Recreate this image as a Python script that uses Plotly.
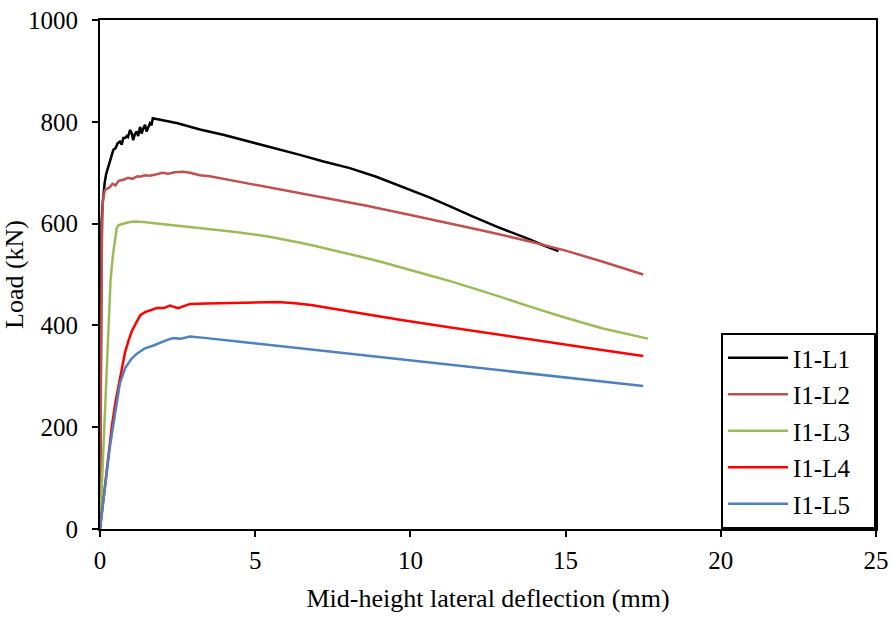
import plotly.graph_objects as go

# I1-L1
x1 = [0, 0.02, 0.04, 0.05, 0.08, 0.11, 0.15, 0.2, 0.27, 0.35, 0.43, 0.5, 0.57, 0.64, 0.7, 0.75, 0.81, 0.86, 0.9, 0.97,
      1.02, 1.07, 1.12, 1.18, 1.23, 1.29, 1.34, 1.4, 1.45, 1.5, 1.55, 1.61, 1.66, 1.7, 2.5, 3.22, 4.0, 4.83, 5.6, 6.44,
      7.2, 8.05, 8.9, 9.66, 10.2, 10.63, 11.28, 12.0, 12.78, 13.3, 13.8, 14.3, 14.77]
y1 = [0, 250, 480, 600, 635, 660, 680, 698, 712, 730, 745, 748, 758, 761, 755, 768, 768, 772, 770, 784,
      778, 764, 775, 781, 772, 790, 777, 788, 794, 781, 790, 797, 793, 807, 797, 785, 774, 761, 749, 735,
      722, 709, 692, 674, 662, 651, 634, 614, 594, 582, 570, 557, 546]
# I1-L2
x2 = [0, 0.03, 0.06, 0.09, 0.12, 0.16, 0.22, 0.32, 0.4, 0.5, 0.6, 0.75, 0.9, 1.05, 1.2, 1.29, 1.45, 1.6, 1.83, 2.0,
      2.2, 2.4, 2.68, 2.9, 3.22, 3.54, 4.5, 5.9, 7.2, 8.59, 10.0, 10.63, 11.28, 12.5, 13.85, 15.0, 16.2, 17.5]
y2 = [0, 300, 560, 646, 658, 666, 668, 672, 678, 675, 684, 686, 690, 688, 693, 692, 695, 694, 697, 700,
      698, 701, 702, 700, 695, 693, 682, 666, 650, 635, 617, 609, 600, 584, 565, 547, 525, 500]
# I1-L3
x3 = [0, 0.1, 0.22, 0.34, 0.42, 0.5, 0.54, 0.6, 0.75, 0.9, 1.07, 1.4, 1.83, 2.5, 3.22, 4.3, 5.37, 6.0, 6.5, 7.0, 7.52,
      8.0, 8.6, 9.1, 9.66, 10.1, 10.63, 11.28, 12.5, 13.85, 15.0, 16.2, 17.5, 17.65]
y3 = [0, 140, 320, 489, 540, 575, 591, 597, 600, 602, 604, 603, 600, 596, 591, 584, 575, 568, 562, 555, 548,
      541, 532, 524, 515, 507, 498, 487, 464, 437, 415, 394, 375, 374]
# I1-L4
x4 = [0, 0.2, 0.38, 0.5, 0.64, 0.81, 0.92, 1.02, 1.18, 1.3, 1.45, 1.65, 1.83, 2.05, 2.26, 2.4, 2.52, 2.7, 2.9, 3.44,
      4.0, 4.51, 5.15, 5.7, 6.2, 6.8, 8.0, 9.66, 11.3, 12.89, 14.5, 16.0, 17.5]
y4 = [0, 105, 201, 250, 293, 348, 370, 388, 407, 420, 426, 430, 434, 434, 439, 436, 434, 438, 442, 443,
      444, 445, 446, 446, 444, 440, 428, 411, 396, 381, 366, 353, 340]
# I1-L5
x5 = [0, 0.32, 0.5, 0.64, 0.81, 1.02, 1.2, 1.45, 1.7, 1.93, 2.15, 2.36, 2.6, 2.9, 3.2, 3.44, 4.51, 6.0, 7.52, 9.5,
      11.81, 14.5, 17.5]
y5 = [0, 162, 232, 286, 316, 335, 345, 355, 360, 366, 371, 375, 374, 378, 377, 375, 368, 358, 348, 334,
      319, 300, 281]

names = ["I1-L1", "I1-L2", "I1-L3", "I1-L4", "I1-L5"]
colors = ["#000000", "#C0504D", "#9BBB59", "#FF0000", "#4F81BD"]
xs = [x1, x2, x3, x4, x5]
ys = [y1, y2, y3, y4, y5]

FONT = "'Liberation Serif', 'Times New Roman', Times, serif"
PAD = "\u00a0\u00a0\u00a0"

fig = go.Figure()
for x, y, n, c in zip(xs, ys, names, colors):
    fig.add_trace(go.Scatter(x=x, y=y, name=n + PAD, mode="lines", legendgroup=n,
                             line=dict(color=c, width=2.5)))

axis_common = dict(showgrid=False, zeroline=False, showline=True, linecolor="black", linewidth=2,
                   mirror=True, ticks="outside", ticklen=6, tickwidth=2, tickcolor="black",
                   automargin=False,
                   tickfont=dict(family=FONT, size=25, color="black"))

fig.update_layout(
    width=893, height=619,
    margin=dict(l=100, r=17, t=20, b=90),
    paper_bgcolor="white", plot_bgcolor="white",
    font=dict(family=FONT, size=25, color="black"),
    xaxis=dict(range=[0, 25], dtick=5, tick0=0, ticklabelstandoff=2,
               title=dict(text="Mid-height lateral deflection (mm)", font=dict(family=FONT, size=26), standoff=16),
               **axis_common),
    yaxis=dict(range=[0, 1000], dtick=200, tick0=0, ticklabelstandoff=9,
               title=dict(text="Load (kN)", font=dict(family=FONT, size=26), standoff=0),
               **axis_common),
    legend=dict(x=1, y=0, xanchor="right", yanchor="bottom", bgcolor="white",
                bordercolor="black", borderwidth=2, tracegroupgap=1,
                itemwidth=60,
                font=dict(family=FONT, size=25, color="black")),
    showlegend=True,
)

fig.write_html("out.html")
